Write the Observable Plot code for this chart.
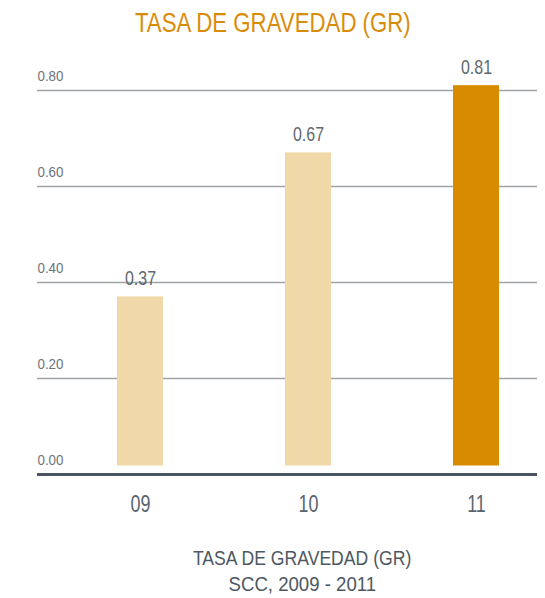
<!DOCTYPE html>
<html>
<head>
<meta charset="utf-8">
<script src="https://cdn.jsdelivr.net/npm/d3@7"></script>
<script src="https://cdn.jsdelivr.net/npm/@observablehq/plot@0.6"></script>
<style>
  html, body { margin: 0; padding: 0; background: #fff; }
  body { width: 545px; font-family: "Liberation Sans", Arial, sans-serif; }
  #title { height: 50px; line-height: 45.6px; font-size: 28.5px; color: #d98c0a; text-align: center; white-space: nowrap; }
  #caption { margin-top: 22px; padding-left: 60px; font-size: 20px; line-height: 25.7px; color: #4e5862; text-align: center; white-space: nowrap; }
  .sx { display: inline-block; transform-origin: 50% 50%; }
</style>
</head>
<body>
<div id="title"><span class="sx" style="transform: scaleX(0.78)">TASA DE GRAVEDAD (GR)</span></div>
<div id="chart"></div>
<div id="caption"><span class="sx" style="transform: scaleX(0.88)">TASA DE GRAVEDAD (GR)</span><br><span class="sx" style="transform: scaleX(0.93)">SCC, 2009 - 2011</span></div>
<script>
const years = ["09", "10", "11"];
const values = [0.37, 0.67, 0.81];
const valueLabels = ["0.37", "0.67", "0.81"];
const yTicks = [0, 0.2, 0.4, 0.6, 0.8];
const yTickLabels = ["0.00", "0.20", "0.40", "0.60", "0.80"];
const barColors = ["#f0d8a8", "#f0d8a8", "#d98b00"];

const data = years.map((y, i) => ({year: y, value: values[i], label: valueLabels[i], color: barColors[i]}));
const ticks = yTicks.map((t, i) => ({t, label: yTickLabels[i]}));

const font = `"Liberation Sans", Arial, sans-serif`;

const chart = Plot.plot({
  width: 545,
  height: 474,
  marginTop: 40,
  marginBottom: 50,
  marginLeft: 37,
  marginRight: 8,
  style: {fontFamily: font, background: "#fff"},
  x: {domain: years, paddingInner: 0.727, paddingOuter: 0.347, align: 0.675, label: null, axis: null},
  y: {domain: [0, 0.8], label: null, axis: null},
  marks: [
    Plot.ruleY(ticks.filter(d => d.t > 0), {y: "t", stroke: "#9ea3a8", strokeWidth: 1.6}),
    Plot.text(ticks, {y: "t", text: "label", frameAnchor: "left", textAnchor: "start", lineAnchor: "bottom", dy: -9.5, fontSize: 15.5, fill: "#6b737b", ariaDescription: "ylab"}),
    Plot.barY(data, {x: "year", y: "value", fill: "color", insetBottom: 8.5}),
    Plot.text(data, {x: "year", y: "value", text: "label", lineAnchor: "bottom", dy: -11.5, fontSize: 21, fill: "#5f6870", ariaDescription: "vlab"}),
    Plot.ruleY([0], {stroke: "#4a5560", strokeWidth: 3}),
    Plot.axisX({tickSize: 0, tickPadding: 21, fontSize: 23, color: "#5a646e", label: null, ariaDescription: "xlab"})
  ]
});
document.getElementById("chart").appendChild(chart);

// condensed look: squeeze glyph widths
const squeeze = {ylab: 0.86, vlab: 0.76, xlab: 0.78};
for (const [name, f] of Object.entries(squeeze)) {
  chart.querySelectorAll(`g[aria-description="${name}"] text`).forEach(t => {
    const w = t.getComputedTextLength();
    t.setAttribute("textLength", (w * f).toFixed(2));
    t.setAttribute("lengthAdjust", "spacingAndGlyphs");
  });
}
</script>
</body>
</html>
